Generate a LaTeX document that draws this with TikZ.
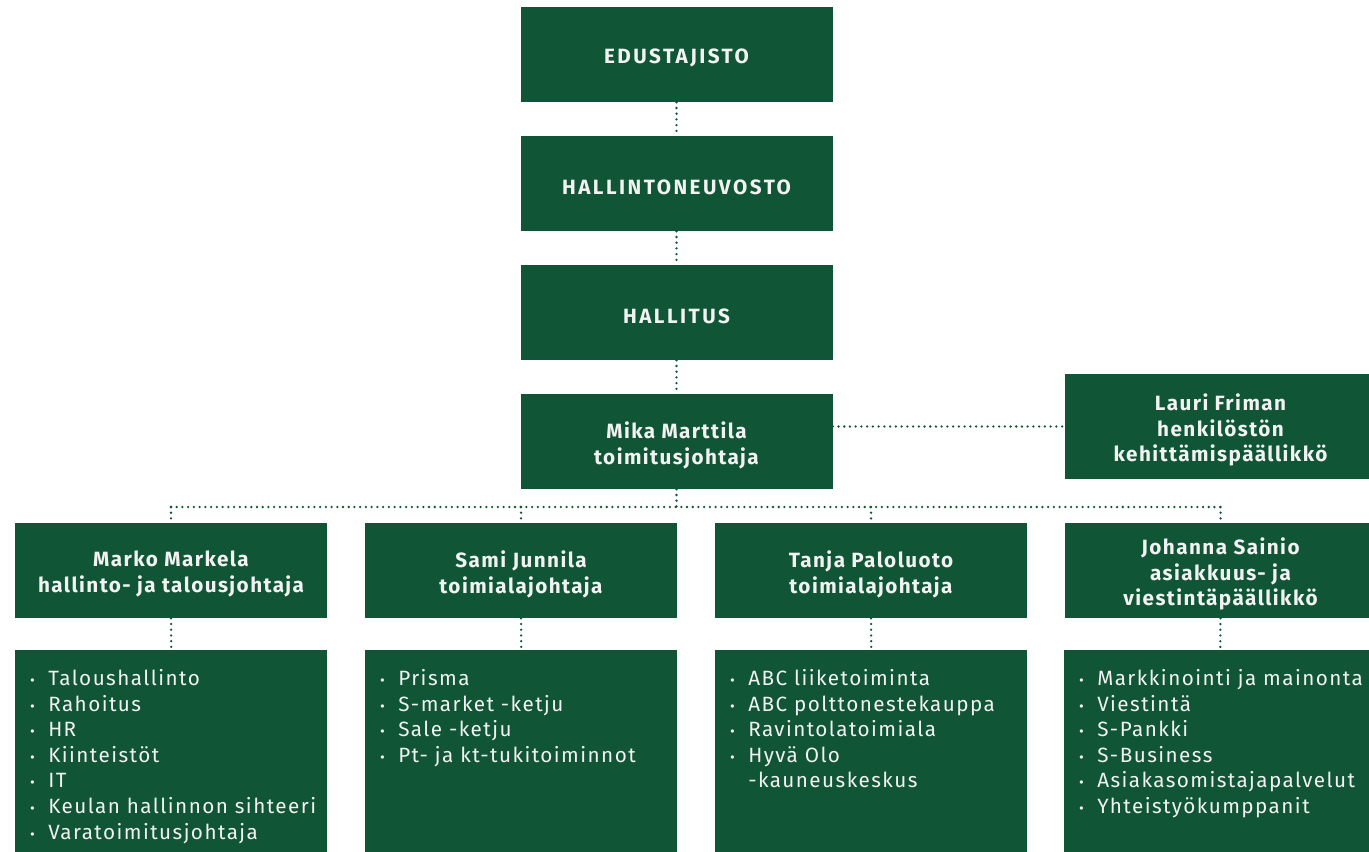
\documentclass[tikz,border=0pt]{standalone}
\usepackage{fontspec}
\setmainfont{Fira Sans}
\newfontfamily\headfam[LetterSpace=7]{Fira Sans}
\newfontfamily\capfam[LetterSpace=12]{Fira Sans}
\newfontfamily\listfam[LetterSpace=7]{Fira Sans}
\definecolor{sgreen}{HTML}{105535}
\definecolor{txt}{HTML}{F2F2F2}
\newcommand\bul{\llap{{\fontsize{11}{11}\selectfont •}\hspace{10pt}}}
\tikzset{
  box/.style={fill=sgreen, minimum width=234pt, minimum height=71.25pt, inner sep=0pt},
  tallbox/.style={box, minimum height=78.75pt},
  boxtext/.style={text=txt, inner sep=0pt, align=center, font=\headfam\bfseries\fontsize{15.5}{19.2}\selectfont},
  captext/.style={boxtext, font=\capfam\bfseries\fontsize{15.5}{19.2}\selectfont},
  listbox/.style={fill=sgreen, minimum width=234pt, minimum height=151.5pt, inner sep=0pt, anchor=north west},
  li/.style={text=txt, anchor=base west, inner sep=0pt, font=\listfam\fontsize{15.5}{18}\selectfont},
  conn/.style={draw=sgreen, line width=1.9pt, line cap=round, dash pattern=on 0pt off 4.3pt},
}
\newcommand\orgbox[4]{%
  \node[#1] (#2) at (#3) {};
  \node[#4] (#2-t) at ([yshift=-2.8pt]#2.center)}
\begin{document}
\begin{tikzpicture}[x=0.75pt,y=-0.75pt]
\useasboundingbox (0,0) rectangle (1369,852);
\orgbox{box}{edu}{676.5,54.5}{captext} {EDUSTAJISTO};
\orgbox{box}{hn}{676.5,183.5}{captext} {HALLINTONEUVOSTO};
\orgbox{box}{hall}{676.5,312.5}{captext} {HALLITUS};
\orgbox{box}{mika}{676.5,441.5}{boxtext} {Mika Marttila\\toimitusjohtaja};
\orgbox{tallbox}{lauri}{1220.5,426.5}{boxtext} {Lauri Friman\\henkilöstön\\kehittämispäällikkö};
\orgbox{box}{marko}{171,570.5}{boxtext} {Marko Markela\\hallinto- ja talousjohtaja};
\orgbox{box}{sami}{521,570.5}{boxtext} {Sami Junnila\\toimialajohtaja};
\orgbox{box}{tanja}{871,570.5}{boxtext} {Tanja Paloluoto\\toimialajohtaja};
\orgbox{box}{johanna}{1220.5,570.5}{boxtext} {Johanna Sainio\\asiakkuus- ja\\viestintäpäällikkö};
\node[listbox] (markolist) at (15,650) {};
\node[listbox] (samilist) at (365,650) {};
\node[listbox] (tanjalist) at (715,650) {};
\node[listbox] (johannalist) at (1064,650) {};
\foreach \t [count=\i] in {Taloushallinto, Rahoitus, HR, Kiinteistöt, IT, Keulan hallinnon sihteeri, Varatoimitusjohtaja}
  \node[li] (mk\i) at (48,{685.7+(\i-1)*25.55}) {\bul\t};
\foreach \t [count=\i] in {Prisma, S-market -ketju, Sale -ketju, Pt- ja kt-tukitoiminnot}
  \node[li] (sj\i) at (398,{685.7+(\i-1)*25.55}) {\bul\t};
\foreach \t [count=\i] in {ABC liiketoiminta, ABC polttonestekauppa, Ravintolatoimiala, Hyvä Olo}
  \node[li] (tp\i) at (748,{685.7+(\i-1)*25.55}) {\bul\t};
\node[li] (tp5) at (748,{685.7+4*25.55}) {-kauneuskeskus};
\foreach \t [count=\i] in {Markkinointi ja mainonta, Viestintä, S-Pankki, S-Business, Asiakasomistajapalvelut, Yhteistyökumppanit}
  \node[li] (js\i) at (1097,{685.7+(\i-1)*25.55}) {\bul\t};
\coordinate (bus) at (0,507);
\draw[conn] (edu.south) -- (hn.north);
\draw[conn] (hn.south) -- (hall.north);
\draw[conn] (hall.south) -- (mika.north);
\draw[conn] (mika.east |- lauri.west) -- (lauri.west);
\draw[conn] (mika.south) -- (mika.south |- bus);
\draw[conn] (marko.north |- bus) -- (johanna.north |- bus);
\draw[conn] (marko.north |- bus) -- (marko.north);
\draw[conn] (sami.north |- bus) -- (sami.north);
\draw[conn] (tanja.north |- bus) -- (tanja.north);
\draw[conn] (johanna.north |- bus) -- (johanna.north);
\draw[conn] (marko.south) -- (markolist.north);
\draw[conn] (sami.south) -- (samilist.north);
\draw[conn] (tanja.south) -- (tanjalist.north);
\draw[conn] (johanna.south) -- (johannalist.north);
\end{tikzpicture}
\end{document}
